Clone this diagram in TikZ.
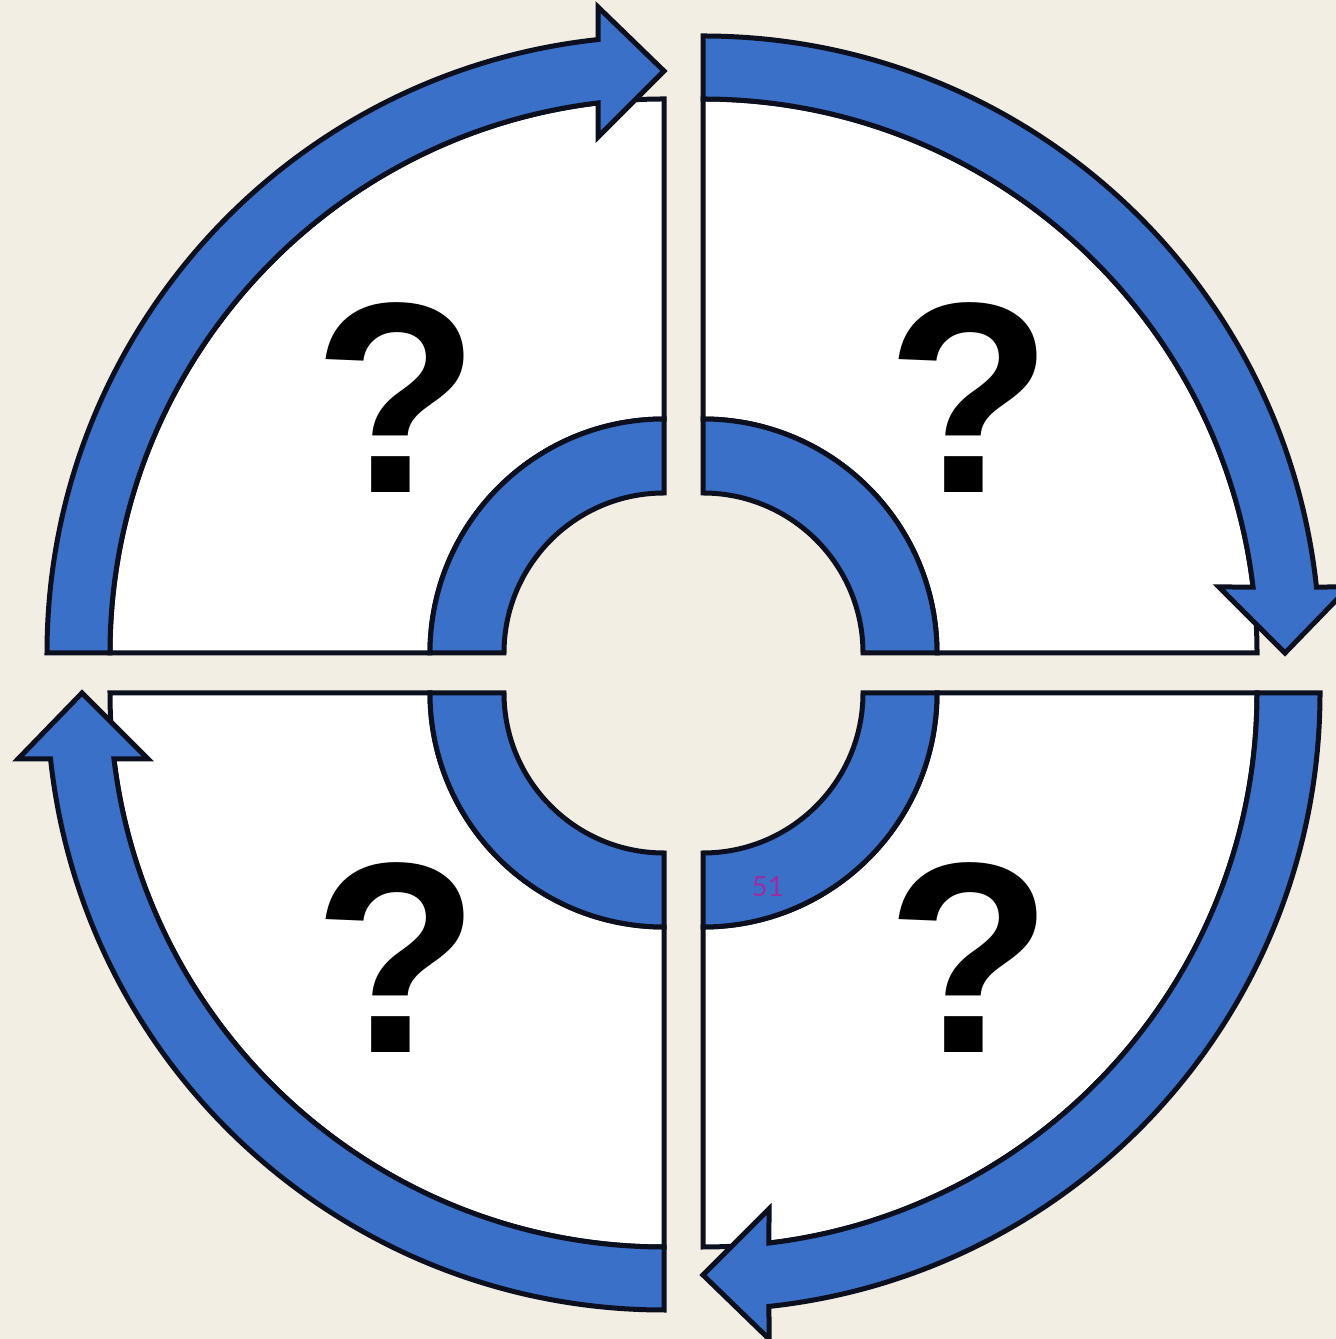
\documentclass[tikz,border=0pt]{standalone}
\usepackage{fontspec}
\newfontfamily\qfont{Liberation Sans}
\newfontfamily\pgfont{Carlito}
\definecolor{bg}{RGB}{243,238,227}
\definecolor{arcblue}{RGB}{58,112,200}
\definecolor{edge}{RGB}{12,16,30}
\definecolor{pgnum}{RGB}{155,45,160}
\newcommand\drawquad[2]{%
  \begin{scope}[shift={#1}, rotate=#2]
    \path[whitepart] (180:554) -- (180:234)
      arc[start angle=180, end angle=90, radius=234] -- (90:554)
      arc[start angle=90, end angle=180, radius=554] -- cycle;
    \path[bluepart] (180:160) -- (180:234)
      arc[start angle=180, end angle=90, radius=234] -- (90:160)
      arc[start angle=90, end angle=180, radius=160] -- cycle;
    \path[bluepart] (180:617)
      arc[start angle=180, end angle=96.14, radius=617] -- (-66,646)
      -- (0,582) -- (-66,516) -- (96.84:554)
      arc[start angle=96.84, end angle=180, radius=554] -- cycle;
  \end{scope}}
\begin{document}
\begin{tikzpicture}[x=1pt, y=1pt,
  outl/.style={draw=edge, line width=5pt, line join=miter},
  whitepart/.style={outl, fill=white},
  bluepart/.style={outl, fill=arcblue},
  qmark/.style={font=\qfont\bfseries\fontsize{272}{272}\selectfont, text=black, inner sep=0pt, anchor=base}]
\fill[bg] (0,0) rectangle (1336,1339);
\useasboundingbox (0,0) rectangle (1336,1339);
\drawquad{(664,686)}{0}
\drawquad{(703,686)}{-90}
\drawquad{(703,646)}{-180}
\drawquad{(664,646)}{-270}
\node[qmark] (q1) at (396.5,846) {?};
\node[qmark] (q2) at (970,846) {?};
\node[qmark] (q3) at (396.5,286) {?};
\node[qmark] (q4) at (970,286) {?};
\node[font=\pgfont\fontsize{31}{31}\selectfont, text=pgnum, inner sep=0pt] (pg) at (767.5,452) {51};
\end{tikzpicture}
\end{document}
